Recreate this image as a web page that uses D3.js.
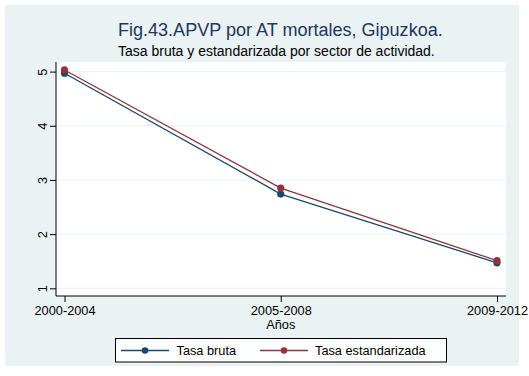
<!DOCTYPE html>
<html>
<head>
<meta charset="utf-8">
<script src="https://cdn.jsdelivr.net/npm/d3@7"></script>
<style>
  html, body { margin: 0; padding: 0; background: #fff; }
  svg { display: block; font-family: "Liberation Sans", Arial, sans-serif; }
</style>
</head>
<body>
<svg id="chart" width="529" height="376"></svg>
<script>
// Period categories on the x axis
const periods = ["2000-2004", "2005-2008", "2009-2012"];
// Rates per period
const tasaBruta = [4.97, 2.74, 1.47];
const tasaEstandarizada = [5.03, 2.85, 1.51];
// Y axis ticks
const yTicks = [1, 2, 3, 4, 5];

const series = [
  { name: "Tasa bruta", values: tasaBruta, color: "#1a476f" },
  { name: "Tasa estandarizada", values: tasaEstandarizada, color: "#90353b" }
];

const svg = d3.select("#chart");

// Scale a text element's font so its rendered width equals `w`
function fitWidth(sel, w) {
  const fs = parseFloat(sel.attr("font-size"));
  const cur = sel.node().getComputedTextLength();
  const size = fs * w / cur;
  sel.attr("font-size", size);
  return size;
}

// Graph region
svg.append("rect").attr("x", 5).attr("y", 5).attr("width", 514).attr("height", 361)
  .attr("fill", "#eaf2f3");

const plot = { left: 56, right: 506, top: 62, bottom: 296 };
svg.append("rect").attr("x", plot.left).attr("y", plot.top)
  .attr("width", plot.right - plot.left).attr("height", plot.bottom - plot.top)
  .attr("fill", "#ffffff");

const x = d3.scalePoint().domain(periods).range([64.5, 497]);
const y = d3.scaleLinear().domain([1, 5]).range([288.3, 71.6]);

// Tick label size, taken from the width of the first period label
const probe = svg.append("text").attr("font-size", 11).text(periods[0]);
const tickFs = fitWidth(probe, 61);
probe.remove();

// Gridlines
svg.append("g").selectAll("line").data(yTicks).join("line")
  .attr("x1", plot.left).attr("x2", plot.right)
  .attr("y1", d => y(d)).attr("y2", d => y(d))
  .attr("stroke", "#eaf2f3").attr("stroke-width", 1);

// Y axis with vertical tick labels
const yAxis = svg.append("g").attr("transform", `translate(${plot.left},0)`)
  .call(d3.axisLeft(y).tickValues(yTicks).tickSize(6).tickFormat(d3.format("d")));
yAxis.select(".domain").remove();
yAxis.selectAll(".tick line").attr("stroke", "#000");
yAxis.selectAll(".tick text")
  .attr("font-size", tickFs).attr("fill", "#000")
  .attr("text-anchor", "middle")
  .attr("x", null).attr("dy", null)
  .attr("transform", "translate(-14,0) rotate(-90)")
  .attr("y", 0.36 * tickFs);
svg.append("line").attr("x1", plot.left).attr("x2", plot.left)
  .attr("y1", plot.top).attr("y2", plot.bottom).attr("stroke", "#000");

// X axis
const xAxis = svg.append("g").attr("transform", `translate(0,${plot.bottom})`)
  .call(d3.axisBottom(x).tickSize(6));
xAxis.select(".domain").remove();
xAxis.selectAll(".tick line").attr("stroke", "#000");
xAxis.selectAll(".tick text").attr("font-size", tickFs).attr("fill", "#000")
  .attr("dy", null).attr("y", 18.5);
svg.append("line").attr("x1", plot.left).attr("x2", plot.right)
  .attr("y1", plot.bottom).attr("y2", plot.bottom).attr("stroke", "#000");

// Axis title
svg.append("text").attr("x", x("2005-2008")).attr("y", 329)
  .attr("text-anchor", "middle").attr("font-size", tickFs).attr("fill", "#000").text("Años");

// Series lines and markers
const line = d3.line().x((d, i) => x(periods[i])).y(d => y(d));
series.forEach(s => {
  svg.append("path").datum(s.values).attr("d", line)
    .attr("fill", "none").attr("stroke", s.color).attr("stroke-width", 1.3);
  svg.append("g").selectAll("circle").data(s.values).join("circle")
    .attr("cx", (d, i) => x(periods[i])).attr("cy", d => y(d)).attr("r", 3.6)
    .attr("fill", s.color);
});

// Titles
const title = svg.append("text").attr("x", 118).attr("y", 35.5)
  .attr("font-size", 17).attr("fill", "#1e3560")
  .text("Fig.43.APVP por AT mortales, Gipuzkoa.");
fitWidth(title, 325);
const sub = svg.append("text").attr("x", 118).attr("y", 56)
  .attr("font-size", 12).attr("fill", "#000")
  .text("Tasa bruta y estandarizada por sector de actividad.");
fitWidth(sub, 317);

// Legend
const lg = svg.append("g");
lg.append("rect").attr("x", 115.5).attr("y", 338.5).attr("width", 331).attr("height", 23.5)
  .attr("fill", "#fff").attr("stroke", "#000").attr("stroke-width", 1);
const legendItems = [
  { s: series[0], x0: 121, x1: 169, tx: 176.5 },
  { s: series[1], x0: 260, x1: 308, tx: 315 }
];
legendItems.forEach(it => {
  const cy = 350.5;
  lg.append("line").attr("x1", it.x0).attr("x2", it.x1).attr("y1", cy).attr("y2", cy)
    .attr("stroke", it.s.color).attr("stroke-width", 1.3);
  lg.append("circle").attr("cx", (it.x0 + it.x1) / 2).attr("cy", cy).attr("r", 3.3)
    .attr("fill", it.s.color);
  lg.append("text").attr("x", it.tx).attr("y", cy + 0.36 * tickFs).attr("font-size", tickFs)
    .attr("fill", "#000").text(it.s.name);
});
</script>
</body>
</html>
